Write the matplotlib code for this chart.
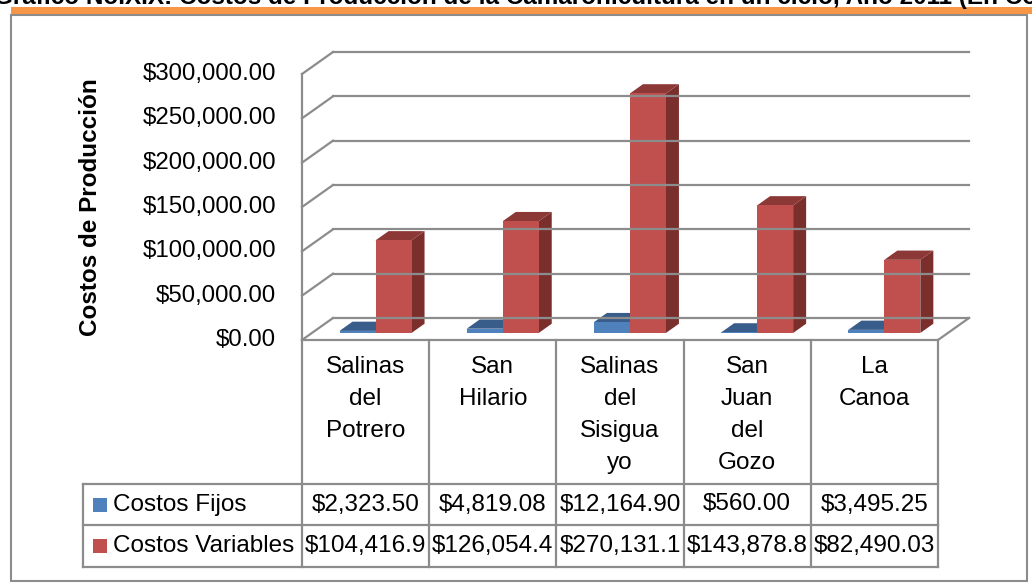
import numpy as np
import matplotlib
matplotlib.use("Agg")
import matplotlib.pyplot as plt
from matplotlib.patches import Polygon, Rectangle

plt.rcParams['font.family'] = ['Liberation Sans', 'DejaVu Sans']

# data
categories = ["Salinas\ndel\nPotrero", "San\nHilario", "Salinas\ndel\nSisigua\nyo",
              "San\nJuan\ndel\nGozo", "La\nCanoa"]
series_names = ["Costos Fijos", "Costos Variables"]
costos_fijos = [2323.50, 4819.08, 12164.90, 560.00, 3495.25]
costos_variables = [104416.90, 126054.40, 270131.10, 143878.80, 82490.03]
y_ticks = [0, 50000, 100000, 150000, 200000, 250000, 300000]
title = "Gráfico No.X.X: Costos de Producción de la Camaronicultura en un ciclo, Año 2011 (En Córdobas)"

W, H = 1032, 585
fig = plt.figure(figsize=(W / 100, H / 100), dpi=100)

# background axes in pixel units for frame / table
bg = fig.add_axes([0, 0, 1, 1])
bg.set_xlim(0, W)
bg.set_ylim(H, 0)
bg.axis("off")

# title is partly cut off by the top edge, as in the source image
bg.text(-6, 4, title, fontsize=17.5, fontweight="bold", ha="left", va="baseline")
bg.add_patch(Rectangle((11, 7), W - 11, 7, color="#F79646", lw=0))
bg.add_patch(Rectangle((11, 14.5), 1016, 566, fill=False, ec="#8C8C8C", lw=1.5))

# plot area: front plane of the 3D box
left, right, floor, top = 302, 938, 340, 74
ax = fig.add_axes([left / W, (H - floor) / H, (right - left) / W, (floor - top) / H])
n = len(categories)
ymax = y_ticks[-1]
ax.set_xlim(0, n)
ax.set_ylim(0, ymax)
ax.axis("off")

DX = 31 / (right - left) * n          # depth offset in x (category units)
DY = 22 / (floor - top) * ymax        # depth offset in y (value units)

grid_c = "#8C8C8C"
for v in y_ticks:
    ax.plot([DX, n + DX], [v + DY, v + DY], color=grid_c, lw=1.6, clip_on=False)
    ax.plot([0, DX], [v, v + DY], color=grid_c, lw=1.6, clip_on=False)
    ax.text(-0.205, v, f"${v:,.2f}", ha="right", va="center", fontsize=17.3)
ax.plot([0, 0], [0, ymax], color=grid_c, lw=1.6, clip_on=False)
ax.plot([0, n, n + DX], [0, 0, DY], color=grid_c, lw=1.6, clip_on=False)

ax.text(-1.66, ymax / 2, "Costos de Producción", rotation=90, ha="center",
        va="center", fontsize=17.5, fontweight="bold")

# 3D-looking bars
d1, d2 = 0.32, 0.74
bw = 0.283
colors = [("#4F81BD", "#385D8A", "#2F4F78"), ("#C0504D", "#8C3836", "#7B2F2D")]


def pt(x, y, d):
    return (x + d * DX, y + d * DY)


for i in range(n):
    for s, vals in enumerate([costos_fijos, costos_variables]):
        v = vals[i]
        x0 = i + 0.5 - bw + s * bw
        x1 = x0 + bw
        front, topc, side = colors[s]
        ax.add_patch(Polygon([pt(x1, 0, d1), pt(x1, v, d1), pt(x1, v, d2), pt(x1, 0, d2)],
                             closed=True, fc=side, ec="none", clip_on=False))
        ax.add_patch(Polygon([pt(x0, v, d1), pt(x1, v, d1), pt(x1, v, d2), pt(x0, v, d2)],
                             closed=True, fc=topc, ec="none", clip_on=False))
        ax.add_patch(Polygon([pt(x0, 0, d1), pt(x1, 0, d1), pt(x1, v, d1), pt(x0, v, d1)],
                             closed=True, fc=front, ec="none", clip_on=False))

# data table below
colw = (right - left) / n
row1, row2, row3 = 484, 525, 567
lab_left = 83
tc = "#8C8C8C"
for k in range(n + 1):
    xk = left + k * colw
    bg.plot([xk, xk], [floor, row3], color=tc, lw=1.6)
bg.plot([lab_left, lab_left], [row1, row3], color=tc, lw=1.6)
for yy in (row1, row2, row3):
    bg.plot([lab_left, right], [yy, yy], color=tc, lw=1.6)

for i, c in enumerate(categories):
    bg.text(left + (i + 0.5) * colw, 356, c, ha="center", va="top", fontsize=17.5,
            linespacing=1.58)

for r, (name, vals) in enumerate(zip(series_names, [costos_fijos, costos_variables])):
    yc = (row1 + row2) / 2 if r == 0 else (row2 + row3) / 2
    bg.add_patch(Rectangle((93, yc - 7), 14, 14, color=colors[r][0], lw=0))
    bg.text(113, yc, name, ha="left", va="center", fontsize=17.5)
    for i, v in enumerate(vals):
        txt = f"${v:,.2f}"[:10]
        bg.text(left + (i + 0.5) * colw, yc, txt, ha="center", va="center", fontsize=17.5)

fig.savefig("out.png", dpi=100)
